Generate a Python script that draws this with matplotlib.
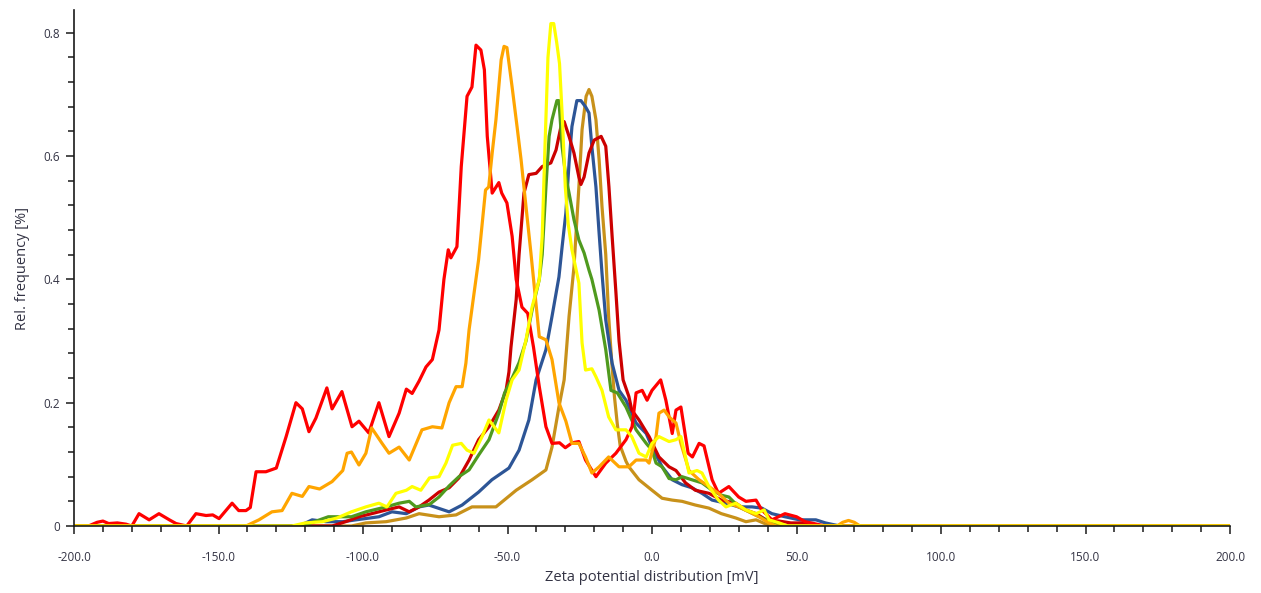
import matplotlib
matplotlib.use("Agg")
import matplotlib.pyplot as plt
from matplotlib.ticker import MultipleLocator, FuncFormatter

# Zeta potential distributions (x in mV, y in %)
red_x = [-200, -195, -192, -190, -188, -185, -182, -180, -177.5, -174, -170.6, -167, -164.7, -161,
         -157.8, -154.3, -152, -149.8, -145.3, -143, -140.5, -139, -137, -133.6, -130, -126.6,
         -123.2, -121, -118.7, -116.3, -112.5, -110.7, -107.3, -103.8, -101.4, -98, -94.5, -91,
         -87.5, -85, -83, -80.6, -78.2, -76, -73.7, -72, -70.5, -69.6, -67.5, -66, -64, -62.3,
         -60.9, -59.2, -58, -57, -55.3, -53, -52, -50.2, -48.4, -47, -45, -43, -41, -39, -36.7,
         -34.6, -32, -30, -27.6, -25.3, -23, -19.4, -16, -12.5, -9, -6.9, -5.5, -3.4, -1.7, 0, 3,
         4.8, 7, 8.3, 10, 12.5, 14, 16.3, 18, 20.8, 23, 26.6, 30, 32.5, 36, 38, 41.5, 46, 50, 53,
         57, 60, 200]
red_y = [0, 0, 0.006, 0.008, 0.004, 0.005, 0.003, 0, 0.02, 0.01, 0.02, 0.01, 0.004, 0,
         0.02, 0.017, 0.018, 0.012, 0.037, 0.025, 0.025, 0.03, 0.088, 0.088, 0.094, 0.145,
         0.20, 0.19, 0.153, 0.175, 0.224, 0.19, 0.218, 0.161, 0.17, 0.151, 0.20, 0.145,
         0.183, 0.222, 0.215, 0.235, 0.258, 0.27, 0.318, 0.40, 0.448, 0.435, 0.453, 0.583, 0.697, 0.712,
         0.78, 0.772, 0.74, 0.632, 0.54, 0.557, 0.54, 0.524, 0.47, 0.40, 0.355, 0.345, 0.29, 0.226, 0.161,
         0.134, 0.135, 0.127, 0.135, 0.137, 0.107, 0.08, 0.102, 0.118, 0.14, 0.161, 0.216, 0.22, 0.204, 0.22, 0.237,
         0.204, 0.15, 0.188, 0.193, 0.118, 0.112, 0.134, 0.13, 0.075, 0.053, 0.064, 0.047, 0.04, 0.042, 0.026, 0.01, 0.02, 0.015, 0.007,
         0.003, 0, 0]

orange_x = [-200, -140.5, -136, -131.5, -128, -124.6, -121, -118.7, -115, -110.7, -107, -105.5, -104,
            -101.4, -99, -97, -93.4, -91, -87.5, -84, -79.6, -76, -72.7, -70.2, -67.8, -65.7, -64.4,
            -63.3, -60, -57.6, -56.5, -55.3, -54, -52.2, -51.2, -50.2, -48.4, -46.7, -45.3, -43.6,
            -41.9, -39, -36.7, -34.6, -32.2, -29.8, -27.7, -25.3, -23, -20.8, -18.3, -15, -11.4, -8,
            -5.5, -2, -1, 1.4, 2.4, 4.2, 5.9, 8.3, 10, 12.8, 16.3, 19.7, 23, 26.6, 30, 33.6, 37, 40.5,
            43, 64, 66, 68, 70, 72, 200]
orange_y = [0, 0, 0.01, 0.023, 0.025, 0.053, 0.048, 0.064, 0.06, 0.072, 0.09, 0.118, 0.12,
            0.099, 0.118, 0.159, 0.134, 0.118, 0.128, 0.107, 0.156, 0.161, 0.159, 0.2, 0.226, 0.226, 0.264,
            0.318, 0.432, 0.545, 0.55, 0.605, 0.659, 0.756, 0.778, 0.776, 0.712, 0.648, 0.594, 0.518,
            0.443, 0.307, 0.302, 0.27, 0.2, 0.17, 0.134, 0.134, 0.112, 0.086, 0.096, 0.112, 0.096, 0.096,
            0.107, 0.107, 0.102, 0.145, 0.183, 0.188, 0.177, 0.167, 0.134, 0.09, 0.075, 0.064, 0.053, 0.037, 0.031, 0.023, 0.015, 0.005,
            0, 0, 0.006, 0.009, 0.006, 0, 0]

yellow_x = [-200, -124.6, -120, -114, -109, -104, -99, -94.5, -91.7, -88.6, -85, -83, -80, -77,
            -73.7, -71.3, -69, -66, -64, -61.6, -58.8, -56.4, -53, -50.5, -48.4, -46, -43.6, -41.5,
            -39, -38, -37, -36, -35, -34, -33, -32, -31, -30, -29, -27.7, -25.3, -24.2, -23, -20.8,
            -19.4, -17.3, -15, -12.5, -9, -7, -4.5, -2, 0, 2.4, 5.9, 8.3, 10, 11.6, 12.8, 15.6, 17.3,
            19.7, 23, 25.6, 29, 32.5, 36, 38.8, 40.5, 44, 47, 200]
yellow_y = [0, 0, 0.005, 0.007, 0.013, 0.023, 0.031, 0.037, 0.031, 0.053, 0.058, 0.064, 0.058, 0.078,
            0.08, 0.102, 0.131, 0.134, 0.123, 0.118, 0.145, 0.172, 0.151, 0.204, 0.237, 0.253, 0.302, 0.355,
            0.40, 0.47, 0.62, 0.76, 0.815, 0.815, 0.785, 0.75, 0.66, 0.55, 0.49, 0.448, 0.394, 0.297, 0.253, 0.255,
            0.242, 0.22, 0.177, 0.156, 0.156, 0.145, 0.118, 0.112, 0.134, 0.145, 0.137, 0.14, 0.145, 0.112, 0.086, 0.09, 0.086,
            0.064, 0.042, 0.031, 0.037, 0.026, 0.02, 0.026, 0.01, 0.005, 0, 0]

green_x = [-200, -121, -115, -112, -108, -104, -99, -92, -87.5, -84, -81.7, -77, -73.7, -70.2, -66.8,
           -63.3, -60, -56.4, -53, -51, -48.4, -46, -43.6, -41.5, -39, -38, -36.7, -35.6, -34.6, -32.9,
           -32.2, -31.1, -29.8, -28.7, -27, -25.3, -23.5, -21.8, -20.8, -18.3, -16, -14.2, -12, -9, -5.5,
           -2, 0, 1.4, 3.5, 5.9, 8.3, 10.4, 13.8, 17.3, 20.8, 24, 26.6, 30, 33.6, 38, 41.5, 45, 200]
green_y = [0, 0, 0.01, 0.015, 0.015, 0.015, 0.023, 0.031, 0.037, 0.04, 0.031, 0.035, 0.047, 0.065, 0.08,
           0.091, 0.115, 0.14, 0.183, 0.216, 0.24, 0.265, 0.3, 0.35, 0.40, 0.44, 0.55, 0.632, 0.659, 0.69,
           0.69, 0.615, 0.566, 0.54, 0.497, 0.464, 0.443, 0.415, 0.40, 0.35, 0.286, 0.22, 0.216, 0.193, 0.156,
           0.134, 0.123, 0.102, 0.096, 0.077, 0.075, 0.08, 0.075, 0.07, 0.058, 0.05, 0.047, 0.031, 0.023, 0.013, 0.005, 0, 0]

darkred_x = [-200, -110.7, -106, -101.4, -97, -92, -87.5, -84, -80.6, -77.2, -73.7, -70.2, -66.8,
             -63.3, -60, -56.4, -53, -50.5, -49.5, -48.8, -47, -46, -44.3, -42.6, -40.1, -38, -35,
             -33.2, -31.5, -30.4, -28.7, -27, -25.3, -24.6, -23.5, -21.8, -20, -17.6, -16, -14.9,
             -13.8, -12.5, -11.4, -10, -8, -7, -4.5, -1, 2.4, 5.9, 8.3, 11.6, 15, 19.7, 24, 29, 32.5,
             36, 39.5, 44, 48, 53, 56, 200]
darkred_y = [0, 0, 0.007, 0.015, 0.02, 0.026, 0.031, 0.023, 0.031, 0.042, 0.055, 0.062, 0.078,
             0.107, 0.14, 0.161, 0.188, 0.22, 0.25, 0.29, 0.367, 0.44, 0.54, 0.57, 0.572, 0.583, 0.589,
             0.61, 0.648, 0.656, 0.632, 0.605, 0.566, 0.554, 0.566, 0.605, 0.626, 0.632, 0.616, 0.55,
             0.47, 0.38, 0.30, 0.237, 0.21, 0.188, 0.172, 0.145, 0.112, 0.096, 0.09, 0.07, 0.058, 0.053, 0.042, 0.037, 0.026,
             0.02, 0.01, 0.008, 0.005, 0.005, 0, 0]

blue_x = [-200, -122, -117.6, -112.8, -107, -102.4, -94.5, -90, -85, -80.6, -77.2, -70.2, -65.7, -60,
          -55.4, -49.5, -46, -42.6, -40.1, -36.7, -34.6, -32.2, -31.1, -29.8, -28.7, -27.7, -26,
          -24.6, -23, -21.8, -20.8, -19.4, -18.3, -17.3, -16, -13.8, -11.4, -9, -5.5, -2, 0, 3.5, 7,
          10.4, 13.8, 17.3, 20.8, 25.6, 30, 34.6, 38, 41.5, 46, 51, 56.7, 60, 65, 200]
blue_y = [0, 0, 0.01, 0.007, 0.007, 0.01, 0.015, 0.023, 0.02, 0.031, 0.034, 0.023, 0.034, 0.055,
          0.075, 0.094, 0.123, 0.172, 0.237, 0.286, 0.34, 0.404, 0.453, 0.508, 0.589, 0.648, 0.69,
          0.69, 0.68, 0.67, 0.615, 0.55, 0.475, 0.41, 0.334, 0.264, 0.22, 0.204, 0.167, 0.15, 0.128, 0.096, 0.075,
          0.067, 0.062, 0.053, 0.042, 0.037, 0.031, 0.031, 0.029, 0.02, 0.015, 0.01, 0.01, 0.005, 0, 0]

gold_x = [-200, -104, -99, -92, -85, -80.6, -73.7, -67.8, -62.3, -54, -47, -41.5, -36.7, -34.6,
          -32.2, -30.4, -28.7, -27, -25.3, -24.2, -22.8, -21.8, -20.8, -19.4, -18.3, -17.3, -16, -15,
          -14, -13, -12, -11, -9, -8, -4.5, 0, 3.5, 7, 10.4, 15, 19.7, 24, 29, 32.5, 36, 41, 200]
gold_y = [0, 0, 0.005, 0.007, 0.013, 0.02, 0.015, 0.018, 0.031, 0.031, 0.058, 0.075, 0.091, 0.128,
          0.193, 0.237, 0.34, 0.42, 0.55, 0.643, 0.697, 0.708, 0.697, 0.659, 0.594, 0.518, 0.44, 0.34,
          0.27, 0.21, 0.165, 0.13, 0.105, 0.096, 0.075, 0.058, 0.045, 0.042, 0.04, 0.034, 0.029, 0.02, 0.013, 0.007, 0.01, 0, 0]

series = [
    (gold_x, gold_y, "#C8911A"),
    (blue_x, blue_y, "#2D5596"),
    (darkred_x, darkred_y, "#CC0000"),
    (green_x, green_y, "#4F9A1E"),
    (red_x, red_y, "#FF0000"),
    (orange_x, orange_y, "#FFA500"),
    (yellow_x, yellow_y, "#FFFF00"),
]

plt.rcParams["font.family"] = ["Open Sans", "DejaVu Sans"]

fig = plt.figure(figsize=(12.61, 5.93), dpi=100)
ax = fig.add_axes([74 / 1261, 67 / 593, 1156 / 1261, 516 / 593])

for xs, ys, col in series:
    ax.plot(xs, ys, color=col, lw=2.3, solid_joinstyle="round", solid_capstyle="round")

ax.set_xlim(-200, 200)
ax.set_ylim(0, 0.837)

ax.xaxis.set_major_locator(MultipleLocator(50))
ax.xaxis.set_minor_locator(MultipleLocator(10))
ax.yaxis.set_major_locator(MultipleLocator(0.2))
ax.yaxis.set_minor_locator(MultipleLocator(0.04))
ax.xaxis.set_major_formatter(FuncFormatter(lambda v, p: f"{v:.1f}"))
ax.yaxis.set_major_formatter(FuncFormatter(lambda v, p: "0" if abs(v) < 1e-9 else f"{v:.1f}"))

for s in ["top", "right"]:
    ax.spines[s].set_visible(False)
for s in ["left", "bottom"]:
    ax.spines[s].set_linewidth(1.2)
    ax.spines[s].set_color("#1a1a1a")

ax.tick_params(axis="both", which="major", length=6, width=1.1, color="#1a1a1a",
               labelsize=8.5, labelcolor="#333344")
ax.tick_params(axis="both", which="minor", length=4, width=1.1, color="#1a1a1a")
ax.tick_params(axis="x", which="major", pad=12)
ax.tick_params(axis="y", which="major", pad=4)

ax.set_xlabel("Zeta potential distribution [mV]", fontsize=10.5, color="#333344", labelpad=4)
ax.set_ylabel("Rel. frequency [%]", fontsize=10.5, color="#333344", labelpad=10)

fig.savefig("out.png", dpi=100)
